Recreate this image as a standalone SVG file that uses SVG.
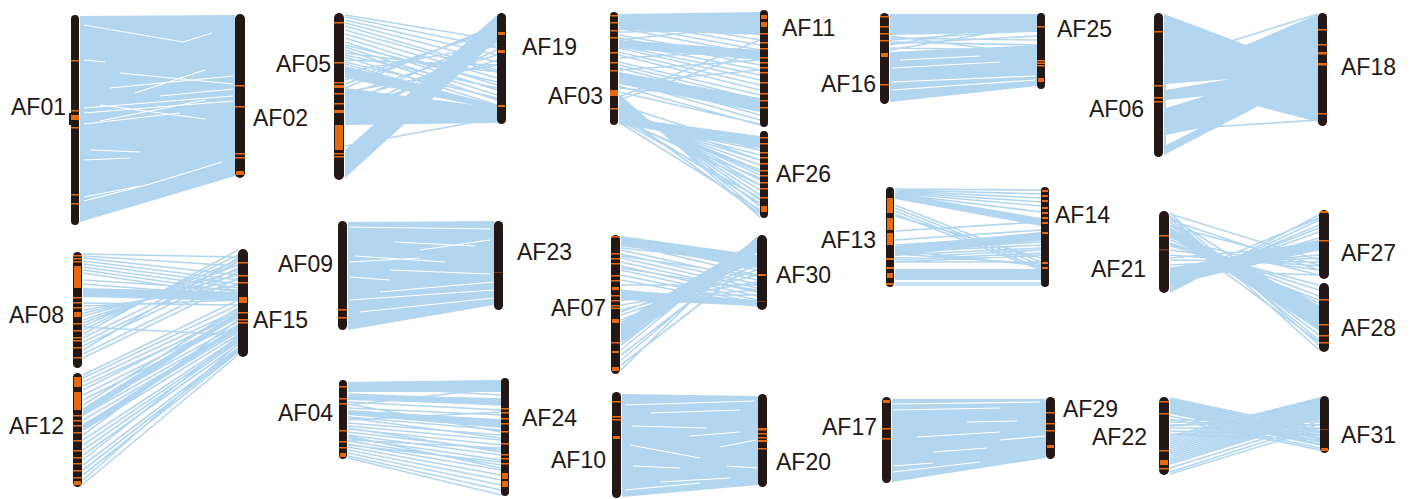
<svg xmlns="http://www.w3.org/2000/svg" width="1416" height="499" viewBox="0 0 1416 499">
<style>
.chr{fill:#231815}
.b{fill:#e8680e}
.bd{fill:#7a3a12}
.lnk{fill:#b2d6f0}
.ln{stroke:#b2d6f0;stroke-width:1.6;fill:none}
.gap{stroke:#ffffff;stroke-width:1.2;fill:none}
.gapf{fill:#ffffff}
.lbl{font-family:"Liberation Sans",Arial,sans-serif;font-size:23px;fill:#231815}
</style>
<rect x="0" y="0" width="1416" height="499" fill="#ffffff"/>
<g id="links">
<g id="l-01-02">
<polygon class="lnk" points="80,16 235,15 235,176 80,222"/>
<path class="gap" d="M84,25 L183,42 L212,33 M84,60 L105,62 M120,73 L233,84 M110,88 L233,76 M135,93 L205,70 M160,96 L233,89 M84,108 L233,96 M84,113 L233,101 M100,121 L205,100 M84,124 L180,113 M100,105 L205,119 M84,201 L150,184 L222,162 M84,197 L140,186 M90,150 L140,152 M84,160 L130,158"/>
</g>
<g id="l-05-19">
<polygon class="lnk" points="345,150 497,15 497,40 345,178"/>
<polygon class="lnk" points="345,66 497,105 497,110 345,78"/>
<polygon class="lnk" points="345,88 497,108 497,123 345,125"/>
<path class="ln" d="M345,15 L497,40 M345,17 L497,48 M345,20 L497,55 M345,23 L497,62 M345,26 L497,70 M345,30 L497,72 M345,34 L497,78 M345,38 L497,85 M345,42 L497,90 M345,47 L497,95 M345,50 L497,100 M345,53 L497,72 M345,57 L497,105 M345,60 L497,65 M345,64 L497,108 M345,80 L497,30 M345,84 L497,28 M345,88 L497,25 M345,95 L497,45 M345,100 L497,55 M345,105 L497,35 M345,110 L497,60 M345,114 L497,42 M345,118 L497,50 M345,122 L497,40 M345,146 L497,118 M345,45 L497,82 M345,55 L497,88 M345,62 L497,98 M345,72 L497,45 M345,92 L497,65"/>
</g>
<g id="l-03-11-26">
<polygon class="lnk" points="619,14 760,12 760,35 619,30"/>
<polygon class="lnk" points="619,40 760,50 760,60 619,48"/>
<polygon class="lnk" points="619,72 760,98 760,112 619,84"/>
<polygon class="lnk" points="619,117 760,136 760,148 619,124"/>
<path class="ln" d="M619,16 L760,40 M619,20 L760,45 M619,24 L760,50 M619,28 L760,55 M619,32 L760,30 M619,35 L760,60 M619,38 L760,65 M619,40 L760,25 M619,43 L760,70 M619,46 L760,75 M619,48 L760,80 M619,52 L760,85 M619,55 L760,90 M619,58 L760,50 M619,62 L760,95 M619,65 L760,100 M619,68 L760,105 M619,70 L760,60 M619,73 L760,110 M619,76 L760,115 M619,80 L760,120 M619,83 L760,70 M619,86 L760,125 M619,88 L760,100 M619,92 L760,124 M619,100 L760,50 M619,97 L760,40"/>
<path class="ln" d="M619,95 L760,217 M619,97 L760,212 M619,99 L760,206 M619,101 L760,200 M619,103 L760,195 M619,105 L760,190 M619,107 L760,185 M619,109 L760,180 M619,111 L760,175 M619,113 L760,170 M619,115 L760,165 M619,117 L760,160 M619,119 L760,155 M619,121 L760,150 M619,123 L760,145 M619,124 L760,140 M619,105 L760,150 M619,110 L760,160 M619,114 L760,172 M619,118 L760,185 M619,120 L760,198 M619,122 L760,210 M619,112 L760,214 M619,116 L760,203 M619,120 L760,178"/>
</g>
<g id="l-16-25">
<polygon class="lnk" points="890,14 1037,14 1037,32 890,35"/>
<polygon class="lnk" points="890,52 1037,45 1037,86 890,102"/>
<path class="ln" d="M890,38 L1037,40 M890,42 L1037,45 M890,45 L1037,20 M890,48 L1037,50 M890,50 L1037,25 M890,36 L1037,55 M890,40 L1037,30 M890,44 L1037,36"/>
<path class="gap" d="M892,82 L1035,76 M892,90 L1035,80 M892,68 L1000,62 M900,60 L980,56"/>
</g>
<g id="l-06-18">
<polygon class="lnk" points="1164,14 1318,72 1318,122 1164,82"/>
<polygon class="lnk" points="1164,80 1318,14 1318,75 1164,155"/>
<polygon class="gapf" points="1166,84 1230,79 1166,90"/>
<polygon class="gapf" points="1166,100 1205,96 1166,108"/>
<polygon class="gapf" points="1166,135 1200,128 1166,145"/>
<path class="ln" d="M1164,130 L1318,120 M1164,62 L1318,14"/>
</g>
<g id="l-13-14">
<polygon class="lnk" points="895,193 1041,218 1041,226 895,199"/>
<polygon class="lnk" points="895,246 1041,232 1041,240 895,256"/>
<polygon class="lnk" points="895,269 1041,269 1041,280 895,280"/>
<path class="ln" d="M895,189 L1041,190 M895,190 L1041,194 M895,191 L1041,198 M895,192 L1041,202 M895,193 L1041,206 M895,194 L1041,212 M895,196 L1041,222 M895,205 L1041,262 M895,208 L1041,265 M895,211 L1041,268 M895,214 L1041,270 M895,216 L1041,258 M895,231 L1041,222 M895,240 L1041,230 M895,245 L1041,236 M895,248 L1041,240 M895,250 L1041,242 M895,252 L1041,245 M895,255 L1041,248 M895,258 L1041,250 M895,260 L1041,253 M895,262 L1041,255 M895,250 L1041,266 M895,254 L1041,264 M895,262 L1041,262 M895,283 L1041,283 M895,285 L1041,285"/>
</g>
<g id="l-21-27-28">
<polygon class="lnk" points="1170,268 1319,240 1319,250 1170,285"/>
<polygon class="lnk" points="1170,228 1319,305 1319,330 1170,236"/>
<path class="ln" d="M1170,213 L1319,345 M1170,216 L1319,350 M1170,219 L1319,340 M1170,222 L1319,335 M1170,225 L1319,330 M1170,228 L1319,325 M1170,231 L1319,318 M1170,234 L1319,310 M1170,237 L1319,303 M1170,240 L1319,296 M1170,243 L1319,290 M1170,246 L1319,285 M1170,238 L1319,275 M1170,220 L1319,270 M1170,226 L1319,265 M1170,214 L1319,260 M1170,292 L1319,215 M1170,290 L1319,220 M1170,288 L1319,225 M1170,285 L1319,232 M1170,282 L1319,238 M1170,278 L1319,242 M1170,275 L1319,247 M1170,272 L1319,250 M1170,268 L1319,255 M1170,265 L1319,258 M1170,260 L1319,262 M1170,255 L1319,266 M1170,250 L1319,270 M1170,270 L1319,275 M1170,217 L1319,312 M1170,232 L1319,342 M1170,244 L1319,300 M1170,286 L1319,228 M1170,280 L1319,218 M1170,258 L1319,245"/>
</g>
<g id="l-08-12-15">
<polygon class="lnk" points="83,288 238,292 238,301 83,297"/>
<polygon class="lnk" points="83,408 238,312 238,317 83,416"/>
<polygon class="lnk" points="83,425 238,325 238,329 83,431"/>
<path class="ln" d="M83,254 L238,257 M83,258 L238,275 M83,261 L238,280 M83,264 L238,284 M83,267 L238,288 M83,270 L238,292 M83,273 L238,296 M83,303 L238,305 M83,306 L238,300 M83,310 L238,285 M83,313 L238,280 M83,316 L238,275 M83,320 L238,270 M83,323 L238,265 M83,326 L238,260 M83,330 L238,255 M83,334 L238,250 M83,338 L238,262 M83,342 L238,268 M83,346 L238,272 M83,350 L238,258 M83,354 L238,278 M83,358 L238,283 M83,327 L238,335 M83,256 L238,266 M83,280 L238,290 M83,284 L238,296"/>
<path class="ln" d="M83,375 L238,300 M83,378 L238,305 M83,382 L238,310 M83,386 L238,315 M83,390 L238,312 M83,395 L238,318 M83,400 L238,322 M83,405 L238,308 M83,410 L238,325 M83,415 L238,328 M83,420 L238,330 M83,425 L238,332 M83,430 L238,335 M83,435 L238,320 M83,440 L238,338 M83,445 L238,340 M83,450 L238,342 M83,455 L238,345 M83,460 L238,336 M83,465 L238,348 M83,470 L238,350 M83,475 L238,352 M83,480 L238,344 M83,484 L238,355"/>
</g>
<g id="l-09-23">
<polygon class="lnk" points="348,222 494,221 494,305 348,330"/>
<path class="gap" d="M350,227 L490,229 M395,242 L475,246 M355,256 L445,262 M350,262 L420,258 M390,270 L490,274 M350,277 L390,280 M420,250 L490,240 M380,292 L494,282 M350,300 L494,290 M360,312 L494,298"/>
</g>
<g id="l-04-24">
<polygon class="lnk" points="348,382 501,380 501,392 348,392"/>
<polygon class="lnk" points="348,410 501,420 501,428 348,415"/>
<polygon class="lnk" points="348,395 501,398 501,405 348,400"/>
<path class="ln" d="M348,383 L501,381 M348,386 L501,395 M348,390 L501,385 M348,394 L501,400 M348,398 L501,405 M348,402 L501,410 M348,405 L501,388 M348,408 L501,415 M348,411 L501,420 M348,414 L501,425 M348,417 L501,430 M348,420 L501,412 M348,423 L501,435 M348,426 L501,440 M348,429 L501,445 M348,432 L501,450 M348,435 L501,455 M348,438 L501,460 M348,441 L501,465 M348,444 L501,470 M348,447 L501,475 M348,450 L501,480 M348,453 L501,485 M348,456 L501,490 M348,458 L501,495 M348,440 L501,448 M348,445 L501,462 M348,404 L501,432 M348,418 L501,438 M348,428 L501,452 M348,436 L501,468"/>
</g>
<g id="l-07-30">
<polygon class="lnk" points="621,236 757,255 757,268 621,245"/>
<polygon class="lnk" points="621,322 757,240 757,252 621,340"/>
<polygon class="lnk" points="621,290 757,300 757,306 621,300"/>
<path class="ln" d="M621,237 L757,265 M621,240 L757,270 M621,243 L757,275 M621,246 L757,258 M621,250 L757,280 M621,254 L757,284 M621,258 L757,288 M621,262 L757,292 M621,266 L757,296 M621,270 L757,300 M621,275 L757,303 M621,280 L757,305 M621,285 L757,285 M621,290 L757,306 M621,295 L757,295 M621,300 L757,290 M621,305 L757,282 M621,310 L757,275 M621,315 L757,270 M621,320 L757,265 M621,325 L757,258 M621,330 L757,252 M621,335 L757,247 M621,340 L757,243 M621,345 L757,240 M621,350 L757,238 M621,355 L757,250 M621,360 L757,245 M621,365 L757,260 M621,370 L757,237 M621,248 L757,262 M621,256 L757,276 M621,268 L757,290 M621,312 L757,262 M621,328 L757,244 M621,342 L757,249"/>
</g>
<g id="l-10-20">
<polygon class="lnk" points="622,394 758,396 758,485 622,497"/>
<path class="gap" d="M625,405 L755,401 M650,413 L740,410 M632,426 L707,428 M690,436 L740,432 M630,445 L700,458 M720,447 L756,440 M633,466 L680,468 M660,482 L730,478 M727,466 L757,468 M625,490 L700,483"/>
</g>
<g id="l-17-29">
<polygon class="lnk" points="892,399 1046,399 1046,458 892,482"/>
<path class="gap" d="M893,404 L1040,402 M893,410 L1000,408 M967,422 L1017,421 M917,437 L1000,432 M933,452 L987,448 M893,466 L933,463 M893,472 L980,462 M1000,440 L1045,436"/>
</g>
<g id="l-22-31">
<path class="ln" d="M1170,398 L1320,430 M1170,401 L1320,433 M1170,404 L1320,436 M1170,407 L1320,439 M1170,410 L1320,442 M1170,413 L1320,445 M1170,416 L1320,448 M1170,419 L1320,450 M1170,422 L1320,425 M1170,425 L1320,420 M1170,428 L1320,428 M1170,431 L1320,435 M1170,434 L1320,440 M1170,436 L1320,398 M1170,440 L1320,400 M1170,444 L1320,403 M1170,448 L1320,406 M1170,452 L1320,409 M1170,456 L1320,412 M1170,460 L1320,415 M1170,464 L1320,418 M1170,468 L1320,421 M1170,472 L1320,424 M1170,474 L1320,428 M1170,399.5 L1320,432 M1170,402.5 L1320,435 M1170,405.5 L1320,438 M1170,408.5 L1320,441 M1170,411.5 L1320,444 M1170,438 L1320,399 M1170,442 L1320,401.5 M1170,446 L1320,404.5 M1170,450 L1320,407.5 M1170,454 L1320,410.5 M1170,458 L1320,413.5 M1170,462 L1320,416.5 M1170,420 L1320,422 M1170,426 L1320,418"/>
</g>
</g>
<g id="AF01"><rect class="chr" x="71" y="15" width="8" height="210" rx="4"/><rect class="chr" x="69" y="113" width="10" height="12"/><rect class="b" x="71" y="60" width="8" height="1.5"/><rect class="b" x="71" y="110" width="8" height="1.5"/><rect class="b" x="71" y="115" width="8" height="5"/><rect class="b" x="71" y="127" width="8" height="1.5"/><rect class="b" x="71" y="194" width="8" height="1.5"/><rect class="b" x="71" y="203" width="8" height="1.5"/><text class="lbl" x="66" y="115" text-anchor="end">AF01</text></g>
<g id="AF02"><rect class="chr" x="235" y="14" width="10" height="164" rx="5"/><rect class="b" x="235" y="85" width="10" height="1.5"/><rect class="b" x="235" y="106" width="10" height="1.5"/><rect class="b" x="235" y="153" width="10" height="1.5"/><rect class="b" x="235" y="157" width="10" height="1.5"/><rect class="b" x="236" y="171" width="8" height="4"/><text class="lbl" x="253" y="126">AF02</text></g>
<g id="AF05"><rect class="chr" x="334" y="13" width="10" height="167" rx="5"/><rect class="b" x="334" y="22" width="10" height="1.5"/><rect class="b" x="334" y="62" width="10" height="1.5"/><rect class="b" x="334" y="82" width="10" height="1.5"/><rect class="b" x="334" y="85" width="10" height="3"/><rect class="b" x="334" y="93" width="10" height="1.5"/><rect class="b" x="334" y="103" width="10" height="1.5"/><rect class="b" x="334" y="110" width="10" height="3"/><rect class="b" x="335" y="125" width="8" height="25"/><rect class="b" x="334" y="153" width="10" height="1.5"/><rect class="b" x="334" y="156" width="10" height="1.5"/><text class="lbl" x="331" y="72" text-anchor="end">AF05</text></g>
<g id="AF19"><rect class="chr" x="497" y="13" width="9" height="111" rx="4.5"/><rect class="b" x="498" y="32" width="7" height="3"/><rect class="b" x="498" y="50" width="7" height="3"/><rect class="b" x="498" y="105" width="7" height="2"/><text class="lbl" x="522" y="55">AF19</text></g>
<g id="AF03"><rect class="chr" x="610" y="12" width="8" height="113" rx="4"/><rect class="b" x="610" y="15" width="8" height="1.5"/><rect class="b" x="610" y="22" width="8" height="1.5"/><rect class="b" x="610" y="30" width="8" height="1.5"/><rect class="b" x="610" y="37" width="8" height="1.5"/><rect class="b" x="610" y="52" width="8" height="1.5"/><rect class="b" x="610" y="62" width="8" height="1.5"/><rect class="b" x="610" y="70" width="8" height="1.5"/><rect class="b" x="610" y="90" width="8" height="6"/><rect class="b" x="610" y="108" width="8" height="1.5"/><text class="lbl" x="603" y="104" text-anchor="end">AF03</text></g>
<g id="AF11"><rect class="chr" x="760" y="10" width="8" height="117" rx="4"/><rect class="b" x="761" y="15" width="6" height="4"/><rect class="b" x="761" y="22" width="6" height="5"/><rect class="b" x="760" y="33" width="8" height="1.5"/><rect class="b" x="760" y="42" width="8" height="1.5"/><rect class="b" x="760" y="48" width="8" height="1.5"/><rect class="b" x="760" y="57" width="8" height="1.5"/><rect class="b" x="760" y="62" width="8" height="1.5"/><rect class="b" x="760" y="67" width="8" height="1.5"/><rect class="b" x="760" y="72" width="8" height="1.5"/><rect class="b" x="760" y="82" width="8" height="1.5"/><rect class="b" x="760" y="93" width="8" height="1.5"/><rect class="b" x="760" y="100" width="8" height="1.5"/><rect class="b" x="760" y="107" width="8" height="1.5"/><text class="lbl" x="782" y="36">AF11</text></g>
<g id="AF26"><rect class="chr" x="760" y="131" width="8" height="87" rx="4"/><rect class="b" x="760" y="137" width="8" height="1.5"/><rect class="b" x="760" y="143" width="8" height="1.5"/><rect class="b" x="760" y="152" width="8" height="1.5"/><rect class="b" x="760" y="157" width="8" height="1.5"/><rect class="b" x="760" y="163" width="8" height="1.5"/><rect class="b" x="760" y="170" width="8" height="1.5"/><rect class="b" x="760" y="175" width="8" height="1.5"/><rect class="b" x="760" y="182" width="8" height="1.5"/><rect class="b" x="760" y="188" width="8" height="1.5"/><rect class="b" x="760" y="197" width="8" height="1.5"/><rect class="b" x="761" y="206" width="6" height="6"/><text class="lbl" x="776" y="182">AF26</text></g>
<g id="AF16"><rect class="chr" x="880" y="13" width="9" height="91" rx="4.5"/><rect class="b" x="880" y="16" width="9" height="1.5"/><rect class="b" x="880" y="26" width="9" height="1.5"/><rect class="b" x="880" y="33" width="9" height="1.5"/><rect class="b" x="880" y="40" width="9" height="1.5"/><rect class="b" x="881" y="53" width="7" height="4"/><rect class="b" x="880" y="84" width="9" height="1.5"/><text class="lbl" x="876" y="92" text-anchor="end">AF16</text></g>
<g id="AF25"><rect class="chr" x="1037" y="13" width="8" height="76" rx="4"/><rect class="b" x="1037" y="26" width="8" height="1.5"/><rect class="b" x="1037" y="60" width="8" height="1.5"/><rect class="b" x="1037" y="62.5" width="8" height="1.5"/><rect class="b" x="1037" y="65" width="8" height="1.5"/><rect class="b" x="1038" y="78" width="6" height="4"/><text class="lbl" x="1057" y="37">AF25</text></g>
<g id="AF13"><rect class="chr" x="886" y="187" width="8" height="100" rx="4"/><rect class="b" x="887" y="198" width="6" height="15"/><rect class="b" x="887" y="218" width="6" height="12"/><rect class="b" x="887" y="233" width="6" height="12"/><rect class="b" x="886" y="258" width="8" height="2"/><rect class="b" x="886" y="267" width="8" height="2"/><rect class="b" x="887" y="273" width="6" height="5"/><rect class="b" x="886" y="283" width="8" height="2"/><text class="lbl" x="876" y="248" text-anchor="end">AF13</text></g>
<g id="AF14"><rect class="chr" x="1041" y="187" width="8" height="100" rx="4"/><rect class="b" x="1042" y="190" width="6" height="2"/><rect class="b" x="1042" y="195" width="6" height="2"/><rect class="b" x="1042" y="200" width="6" height="2"/><rect class="b" x="1042" y="207" width="6" height="2"/><rect class="b" x="1042" y="212" width="6" height="2"/><rect class="b" x="1042" y="217" width="6" height="2"/><rect class="b" x="1042" y="222" width="6" height="2"/><rect class="b" x="1042" y="232" width="6" height="2"/><rect class="b" x="1042" y="262" width="6" height="2"/><rect class="b" x="1042" y="267" width="6" height="2"/><text class="lbl" x="1055" y="223">AF14</text></g>
<g id="AF06"><rect class="chr" x="1154" y="13" width="9" height="144" rx="4.5"/><rect class="b" x="1154" y="31" width="9" height="1.5"/><rect class="b" x="1154" y="85" width="9" height="1.5"/><rect class="b" x="1154" y="97" width="9" height="1.5"/><rect class="b" x="1154" y="101" width="9" height="1.5"/><text class="lbl" x="1144" y="117" text-anchor="end">AF06</text></g>
<g id="AF18"><rect class="chr" x="1318" y="13" width="9" height="113" rx="4.5"/><rect class="b" x="1318" y="29" width="9" height="1.5"/><rect class="b" x="1318" y="44" width="9" height="1.5"/><rect class="b" x="1318" y="52" width="9" height="2.5"/><rect class="b" x="1318" y="63" width="9" height="2.5"/><rect class="b" x="1318" y="113" width="9" height="1.5"/><text class="lbl" x="1341" y="75">AF18</text></g>
<g id="AF21"><rect class="chr" x="1159" y="211" width="10" height="82" rx="5"/><rect class="b" x="1159" y="235" width="10" height="1.5"/><rect class="bd" x="1159" y="249" width="10" height="1.5"/><text class="lbl" x="1146" y="277" text-anchor="end">AF21</text></g>
<g id="AF27"><rect class="chr" x="1319" y="210" width="10" height="69" rx="5"/><rect class="b" x="1320" y="211" width="8" height="2"/><rect class="b" x="1319" y="240" width="10" height="1.5"/><text class="lbl" x="1341" y="261">AF27</text></g>
<g id="AF28"><rect class="chr" x="1319" y="283" width="10" height="69" rx="5"/><rect class="b" x="1319" y="299" width="10" height="1.5"/><rect class="b" x="1319" y="324" width="10" height="1.5"/><rect class="b" x="1319" y="335" width="10" height="1.5"/><rect class="b" x="1319" y="342" width="10" height="1.5"/><text class="lbl" x="1341" y="336">AF28</text></g>
<g id="AF08"><rect class="chr" x="73" y="252" width="9" height="116" rx="4.5"/><rect class="b" x="73" y="255" width="9" height="1.5"/><rect class="b" x="73" y="258" width="9" height="1.5"/><rect class="b" x="73" y="261" width="9" height="1.5"/><rect class="b" x="74" y="266" width="7" height="22"/><rect class="b" x="73" y="297" width="9" height="1.5"/><rect class="b" x="73" y="302" width="9" height="1.5"/><rect class="b" x="73" y="307" width="9" height="1.5"/><rect class="b" x="74" y="312" width="7" height="5"/><rect class="b" x="73" y="323" width="9" height="1.5"/><rect class="b" x="73" y="330" width="9" height="1.5"/><rect class="b" x="73" y="337" width="9" height="1.5"/><rect class="b" x="73" y="340" width="9" height="1.5"/><rect class="b" x="73" y="347" width="9" height="1.5"/><rect class="b" x="73" y="357" width="9" height="1.5"/><text class="lbl" x="64" y="323" text-anchor="end">AF08</text></g>
<g id="AF12"><rect class="chr" x="73" y="373" width="9" height="114" rx="4.5"/><rect class="b" x="74" y="377" width="7" height="10"/><rect class="b" x="74" y="392" width="7" height="18"/><rect class="b" x="73" y="415" width="9" height="1.5"/><rect class="b" x="73" y="420" width="9" height="1.5"/><rect class="b" x="73" y="425" width="9" height="1.5"/><rect class="b" x="73" y="432" width="9" height="1.5"/><rect class="b" x="73" y="440" width="9" height="1.5"/><rect class="b" x="73" y="450" width="9" height="1.5"/><rect class="b" x="73" y="457" width="9" height="1.5"/><rect class="b" x="73" y="463" width="9" height="1.5"/><rect class="b" x="73" y="470" width="9" height="1.5"/><rect class="b" x="73" y="477" width="9" height="1.5"/><rect class="b" x="74" y="481" width="7" height="4"/><text class="lbl" x="64" y="434" text-anchor="end">AF12</text></g>
<g id="AF15"><rect class="chr" x="238" y="249" width="10" height="108" rx="5"/><rect class="b" x="238" y="262" width="10" height="1.5"/><rect class="b" x="238" y="275" width="10" height="1.5"/><rect class="b" x="238" y="282" width="10" height="1.5"/><rect class="b" x="239" y="297" width="8" height="6"/><rect class="b" x="238" y="312" width="10" height="1.5"/><rect class="b" x="238" y="319" width="10" height="1.5"/><rect class="b" x="238" y="322" width="10" height="1.5"/><text class="lbl" x="253" y="328">AF15</text></g>
<g id="AF09"><rect class="chr" x="338" y="221" width="9" height="109" rx="4.5"/><rect class="b" x="338" y="309" width="9" height="1.5"/><rect class="b" x="338" y="317" width="9" height="1.5"/><text class="lbl" x="333" y="272" text-anchor="end">AF09</text></g>
<g id="AF23"><rect class="chr" x="494" y="221" width="9" height="89" rx="4.5"/><rect class="bd" x="494" y="272" width="9" height="1"/><text class="lbl" x="517" y="260">AF23</text></g>
<g id="AF04"><rect class="chr" x="339" y="380" width="8" height="79" rx="4"/><rect class="b" x="339" y="386" width="8" height="1.5"/><rect class="b" x="339" y="398" width="8" height="1.5"/><rect class="b" x="339" y="403" width="8" height="1.5"/><rect class="b" x="339" y="430" width="8" height="1.5"/><rect class="b" x="339" y="441" width="8" height="1.5"/><rect class="b" x="339" y="447" width="8" height="1.5"/><rect class="b" x="340" y="453" width="6" height="4"/><text class="lbl" x="333" y="421" text-anchor="end">AF04</text></g>
<g id="AF24"><rect class="chr" x="501" y="378" width="8" height="118" rx="4"/><rect class="b" x="501" y="408" width="8" height="1.5"/><rect class="b" x="501" y="412" width="8" height="1.5"/><rect class="b" x="501" y="418" width="8" height="1.5"/><rect class="b" x="501" y="423" width="8" height="1.5"/><rect class="b" x="501" y="431" width="8" height="1.5"/><rect class="b" x="501" y="443" width="8" height="1.5"/><rect class="b" x="501" y="454" width="8" height="1.5"/><rect class="b" x="501" y="458" width="8" height="1.5"/><rect class="b" x="501" y="463" width="8" height="1.5"/><rect class="b" x="502" y="473" width="6" height="6"/><rect class="b" x="502" y="481" width="6" height="6"/><text class="lbl" x="522" y="426">AF24</text></g>
<g id="AF07"><rect class="chr" x="611" y="235" width="9" height="139" rx="4.5"/><rect class="b" x="611" y="236" width="9" height="1.5"/><rect class="b" x="611" y="253" width="9" height="1.5"/><rect class="b" x="611" y="258" width="9" height="1.5"/><rect class="b" x="611" y="263" width="9" height="1.5"/><rect class="b" x="611" y="275" width="9" height="1.5"/><rect class="b" x="611" y="280" width="9" height="1.5"/><rect class="b" x="612" y="287" width="7" height="3"/><rect class="b" x="611" y="295" width="9" height="1.5"/><rect class="b" x="611" y="300" width="9" height="1.5"/><rect class="b" x="611" y="305" width="9" height="1.5"/><rect class="b" x="611" y="307.5" width="9" height="1.5"/><rect class="b" x="612" y="319" width="7" height="4"/><rect class="b" x="611" y="342" width="9" height="1.5"/><rect class="b" x="612" y="351" width="7" height="2"/><rect class="b" x="612" y="367" width="7" height="4"/><text class="lbl" x="606" y="316" text-anchor="end">AF07</text></g>
<g id="AF30"><rect class="chr" x="757" y="235" width="10" height="75" rx="5"/><rect class="b" x="758" y="274" width="8" height="2"/><rect class="bd" x="757" y="301" width="10" height="1"/><text class="lbl" x="776" y="283">AF30</text></g>
<g id="AF10"><rect class="chr" x="612" y="392" width="9" height="106" rx="4.5"/><rect class="b" x="612" y="401" width="9" height="1.5"/><rect class="b" x="612" y="416" width="9" height="1.5"/><rect class="b" x="612" y="419" width="9" height="1.5"/><rect class="b" x="613" y="436" width="7" height="3"/><text class="lbl" x="606" y="468" text-anchor="end">AF10</text></g>
<g id="AF20"><rect class="chr" x="758" y="394" width="9" height="93" rx="4.5"/><rect class="b" x="758" y="428" width="9" height="2.5"/><rect class="b" x="758" y="433" width="9" height="1.5"/><rect class="b" x="758" y="437" width="9" height="1.5"/><rect class="b" x="758" y="440" width="9" height="2"/><rect class="b" x="758" y="448" width="9" height="1.5"/><text class="lbl" x="776" y="470">AF20</text></g>
<g id="AF17"><rect class="chr" x="882" y="397" width="9" height="86" rx="4.5"/><rect class="b" x="883" y="400" width="7" height="3"/><rect class="b" x="882" y="428" width="9" height="1.5"/><rect class="b" x="882" y="438" width="9" height="1.5"/><text class="lbl" x="877" y="435" text-anchor="end">AF17</text></g>
<g id="AF29"><rect class="chr" x="1046" y="397" width="9" height="62" rx="4.5"/><rect class="b" x="1046" y="412" width="9" height="1.5"/><rect class="b" x="1046" y="423" width="9" height="1.5"/><rect class="b" x="1046" y="430" width="9" height="1.5"/><rect class="b" x="1047" y="445" width="7" height="3"/><text class="lbl" x="1063" y="417">AF29</text></g>
<g id="AF22"><rect class="chr" x="1159" y="397" width="10" height="78" rx="5"/><rect class="b" x="1159" y="401" width="10" height="1.5"/><rect class="b" x="1159" y="413" width="10" height="1.5"/><rect class="b" x="1159" y="450" width="10" height="1.5"/><rect class="b" x="1160" y="460" width="8" height="5"/><rect class="b" x="1159" y="468" width="10" height="1.5"/><text class="lbl" x="1147" y="445" text-anchor="end">AF22</text></g>
<g id="AF31"><rect class="chr" x="1320" y="396" width="9" height="57" rx="4.5"/><rect class="bd" x="1320" y="429" width="9" height="1"/><rect class="b" x="1321" y="448" width="7" height="3"/><text class="lbl" x="1341" y="443">AF31</text></g>
</svg>
